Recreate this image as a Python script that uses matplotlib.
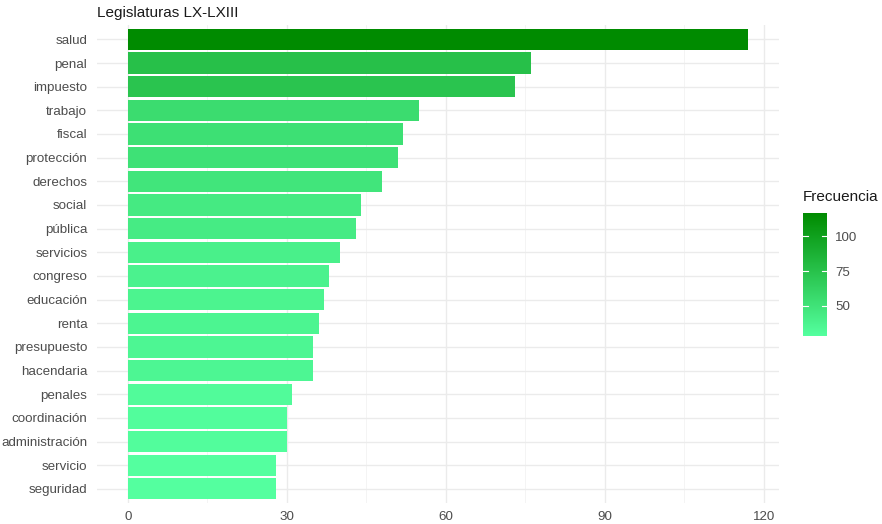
import matplotlib
matplotlib.use("Agg")
import matplotlib.pyplot as plt
from matplotlib.colors import LinearSegmentedColormap, Normalize
from matplotlib.cm import ScalarMappable

plt.rcParams["font.family"] = ["Liberation Sans", "DejaVu Sans"]

palabras = ["salud", "penal", "impuesto", "trabajo", "fiscal", "protección",
            "derechos", "social", "pública", "servicios", "congreso",
            "educación", "renta", "presupuesto", "hacendaria", "penales",
            "coordinación", "administración", "servicio", "seguridad"]
frecuencia = [117, 76, 73, 55, 52, 51, 48, 44, 43, 40, 38, 37, 36, 35, 35,
              31, 30, 30, 28, 28]
x_ticks = [0, 30, 60, 90, 120]
x_minor = [15, 45, 75, 105]
cbar_ticks = [50, 75, 100]

cmap = LinearSegmentedColormap.from_list("verdes", ["#54FF9F", "#008B00"])
norm = Normalize(vmin=min(frecuencia), vmax=max(frecuencia))

fig = plt.figure(figsize=(8.82, 5.24), dpi=100)
ax = fig.add_axes([0.110, 0.040, 0.773, 0.912])

ypos = list(range(len(palabras)))[::-1]
ax.barh(ypos, frecuencia, height=0.9, color=cmap(norm(frecuencia)), zorder=3)

ax.set_xlim(-0.05 * max(frecuencia), 1.05 * max(frecuencia))
ax.set_ylim(-0.6, len(palabras) - 0.4)
ax.set_xticks(x_ticks)
ax.set_xticks(x_minor, minor=True)
ax.set_yticks(ypos)
ax.set_yticklabels(palabras)
ax.grid(which="major", color="#EBEBEB", linewidth=1.0, zorder=0)
ax.grid(which="minor", axis="x", color="#F3F3F3", linewidth=0.6, zorder=0)
for s in ax.spines.values():
    s.set_visible(False)
ax.tick_params(which="both", length=0, labelsize=9.6, labelcolor="#4D4D4D")
ax.tick_params(axis="y", pad=7)
ax.tick_params(axis="x", pad=6)

ax.set_title("Legislaturas LX-LXIII", loc="left", fontsize=11, color="#1A1A1A",
             x=0.0, pad=6)

# legend colorbar
cax = fig.add_axes([803 / 882, 1 - 336 / 524, 24 / 882, 123 / 524])
cb = fig.colorbar(ScalarMappable(norm=norm, cmap=cmap), cax=cax, ticks=cbar_ticks)
cb.outline.set_visible(False)
cax.tick_params(length=0, labelsize=9.6, labelcolor="#4D4D4D", pad=6)
for t in cbar_ticks:
    cax.plot([0, 0.2], [t, t], color="white", lw=0.8, transform=cax.get_yaxis_transform())
    cax.plot([0.8, 1.0], [t, t], color="white", lw=0.8, transform=cax.get_yaxis_transform())
fig.text(803 / 882, 1 - 197 / 524, "Frecuencia", fontsize=11, color="#1A1A1A",
         va="center", ha="left")

fig.savefig("out.png", dpi=100)
